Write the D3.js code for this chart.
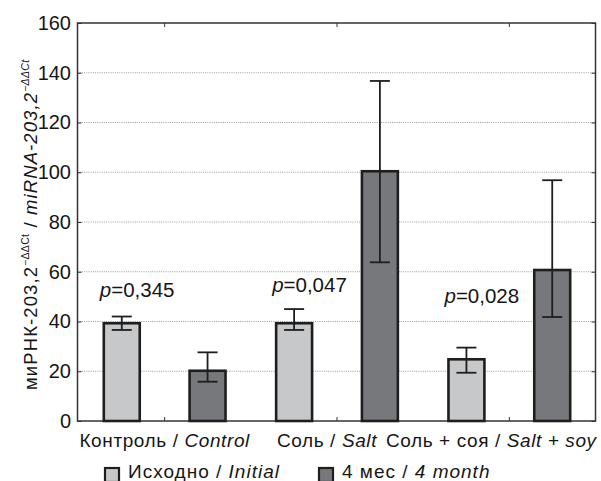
<!DOCTYPE html>
<html>
<head>
<meta charset="utf-8">
<script src="https://cdn.jsdelivr.net/npm/d3@7"></script>
<style>
  html, body { margin: 0; padding: 0; background: #fff; }
  svg { display: block; font-family: "Liberation Sans", Arial, sans-serif; }
</style>
</head>
<body>
<svg id="chart" width="601" height="481"></svg>
<script>
// Groups and series
const groups = ["Контроль", "Соль", "Соль + соя"];
const groupsEn = ["Control", "Salt", "Salt + soy"];
const series = ["initial", "month4"];
const seriesRu = ["Исходно", "4 мес"];
const seriesEn = ["Initial", "4 month"];

// Mean values (2^-ΔΔCt) and error-bar limits per group
const initialMean = [39.3, 39.3, 24.8];
const initialLow  = [36.6, 36.6, 19.4];
const initialHigh = [42.0, 45.0, 29.5];
const month4Mean  = [20.2, 100.4, 60.7];
const month4Low   = [15.8, 63.8, 41.8];
const month4High  = [27.6, 136.7, 96.8];

// p-values between initial and 4-month, and the level their labels sit at
const pValues = ["0,345", "0,047", "0,028"];
const pLabelAt = [50, 52, 47.5];

// Y axis ticks
const yTicks = [0, 20, 40, 60, 80, 100, 120, 140, 160];

const svg = d3.select("#chart");
const plotL = 77.5, plotR = 595.5, plotT = 23, plotB = 421;
const textInk = "#161616";

const x = d3.scaleBand().domain(groups).range([plotL + 1, plotR]).paddingInner(0).paddingOuter(0);
const xs = d3.scaleBand().domain(series).range([0, x.bandwidth()]).paddingInner(0.581).paddingOuter(0.295);
const y = d3.scaleLinear().domain([0, 160]).range([plotB, plotT]);

const fills = { initial: "#c7c8ca", month4: "#77787c" };
const ink = "#1e1e1e";

// Dotted grid
svg.append("g").selectAll("line")
  .data(yTicks.filter(t => t > 0 && t < 160))
  .join("line")
  .attr("x1", plotL).attr("x2", plotR)
  .attr("y1", d => y(d)).attr("y2", d => y(d))
  .attr("stroke", "#9a9a9a").attr("stroke-width", 1)
  .attr("stroke-dasharray", "1,1.2");

// Left axis with inward ticks
const yAxisL = svg.append("g").attr("transform", `translate(${plotL},0)`)
  .call(d3.axisLeft(y).tickValues(yTicks).tickSize(-4).tickPadding(6.5));
yAxisL.select(".domain").remove();
yAxisL.selectAll(".tick line").attr("stroke", "#333");
yAxisL.selectAll(".tick text")
  .attr("font-size", 20).attr("fill", textInk)
  .attr("font-family", "'Liberation Sans', Arial, sans-serif");

// Right axis inward ticks
const yAxisR = svg.append("g").attr("transform", `translate(${plotR},0)`)
  .call(d3.axisRight(y).tickValues(yTicks).tickSize(-4).tickFormat(""));
yAxisR.select(".domain").remove();
yAxisR.selectAll(".tick line").attr("stroke", "#333");

// Top and bottom category ticks
const center = g => x(g) + x.bandwidth() / 2;
const xAxisT = svg.append("g").attr("transform", `translate(0,${plotT})`)
  .call(d3.axisTop(x).tickSize(-4).tickFormat(""));
xAxisT.select(".domain").remove();
xAxisT.selectAll(".tick line").attr("stroke", "#333");
const xAxisB = svg.append("g").attr("transform", `translate(0,${plotB})`)
  .call(d3.axisBottom(x).tickSize(-4).tickFormat(""));
xAxisB.select(".domain").remove();
xAxisB.selectAll(".tick line").attr("stroke", "#333");

// Frame
svg.append("rect")
  .attr("x", plotL).attr("y", plotT)
  .attr("width", plotR - plotL).attr("height", plotB - plotT)
  .attr("fill", "none").attr("stroke", "#333").attr("stroke-width", 1.5);

// Bars
const rows = [];
groups.forEach((g, i) => {
  rows.push({ g, s: "initial", v: initialMean[i], lo: initialLow[i], hi: initialHigh[i] });
  rows.push({ g, s: "month4", v: month4Mean[i], lo: month4Low[i], hi: month4High[i] });
});

const bars = svg.append("g").selectAll("g").data(rows).join("g")
  .attr("transform", d => `translate(${x(d.g) + xs(d.s)},0)`);

bars.append("rect")
  .attr("x", 0).attr("width", xs.bandwidth())
  .attr("y", d => y(d.v)).attr("height", d => y(0) - y(d.v))
  .attr("fill", d => fills[d.s])
  .attr("stroke", ink).attr("stroke-width", 2.6);

// Error bars
const capW = 20;
bars.append("line")
  .attr("x1", xs.bandwidth() / 2).attr("x2", xs.bandwidth() / 2)
  .attr("y1", d => y(d.lo)).attr("y2", d => y(d.hi))
  .attr("stroke", ink).attr("stroke-width", 1.8);
bars.append("line")
  .attr("x1", xs.bandwidth() / 2 - capW / 2).attr("x2", xs.bandwidth() / 2 + capW / 2)
  .attr("y1", d => y(d.hi)).attr("y2", d => y(d.hi))
  .attr("stroke", ink).attr("stroke-width", 1.8);
bars.append("line")
  .attr("x1", xs.bandwidth() / 2 - capW / 2).attr("x2", xs.bandwidth() / 2 + capW / 2)
  .attr("y1", d => y(d.lo)).attr("y2", d => y(d.lo))
  .attr("stroke", ink).attr("stroke-width", 1.8);

// p-value labels
const pText = svg.append("g").selectAll("text").data(groups).join("text")
  .attr("x", (g) => x(g) + xs("initial") - 4)
  .attr("y", (g, i) => y(pLabelAt[i]))
  .attr("font-size", 20.5).attr("fill", textInk);
pText.append("tspan").attr("font-style", "italic").text("p");
pText.append("tspan").text((g, i) => "=" + pValues[i]);

// Category labels
const labelShift = [0, -10, -18];
const cat = svg.append("g").selectAll("text").data(groups).join("text")
  .attr("x", (g, i) => center(g) + labelShift[i])
  .attr("y", 446.5)
  .attr("text-anchor", "middle")
  .attr("font-size", 19).attr("fill", textInk)
  .attr("letter-spacing", 0.6);
cat.append("tspan").text(g => g + " / ");
cat.append("tspan").attr("font-style", "italic").text((g, i) => groupsEn[i]);

// Y axis title
const title = svg.append("text")
  .attr("transform", `translate(36.5,390) rotate(-90)`)
  .attr("font-size", 18.5).attr("fill", textInk)
  .attr("letter-spacing", 1.1);
title.append("tspan").text("миРНК-203,2");
title.append("tspan").attr("font-size", 10.5).attr("dy", -7.5).attr("letter-spacing", 0.3).text("−ΔΔCt");
title.append("tspan").attr("dy", 7.5).text(" / ");
title.append("tspan").attr("font-style", "italic").text("miRNA-203,2");
title.append("tspan").attr("font-style", "italic").attr("font-size", 10.5).attr("dy", -7.5).attr("letter-spacing", 0.3).text("−ΔΔCt");

// Legend
const legendX = [104, 318];
const lg = svg.append("g").selectAll("g").data(series).join("g")
  .attr("transform", (s, i) => `translate(${legendX[i]},467)`);
lg.append("rect")
  .attr("x", 1).attr("y", 1).attr("width", 14).attr("height", 14)
  .attr("fill", s => fills[s]).attr("stroke", ink).attr("stroke-width", 2.2);
const lt = lg.append("text").attr("x", 24).attr("y", 11)
  .attr("font-size", 19).attr("fill", textInk).attr("letter-spacing", 1.0);
lt.append("tspan").text((s, i) => seriesRu[i] + " / ");
lt.append("tspan").attr("font-style", "italic").text((s, i) => seriesEn[i]);
</script>
</body>
</html>
